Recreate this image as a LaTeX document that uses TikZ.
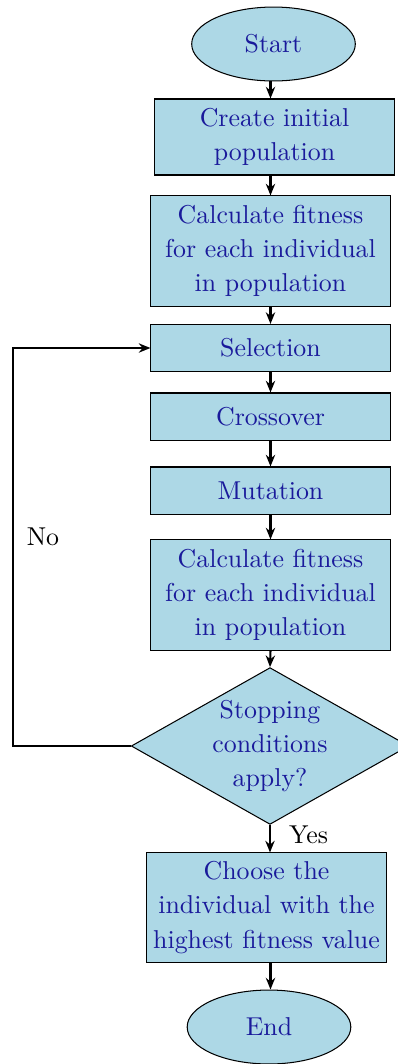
\documentclass[tikz,border=0pt]{standalone}
\usetikzlibrary{shapes.geometric,arrows.meta}
\definecolor{boxfill}{RGB}{173,216,230}
\definecolor{boxtext}{RGB}{26,26,155}
\begin{document}
\begin{tikzpicture}[x=0.38685pt,y=-0.38685pt,
  base/.style={draw=black,fill=boxfill,text=boxtext,
    font=\fontsize{10}{13.2}\selectfont,align=center,inner sep=0pt,line width=0.4pt},
  stepbox/.style={base,rectangle,minimum width=92.5pt},
  term/.style={base,ellipse,minimum width=63.3pt,minimum height=28.6pt},
  decide/.style={base,diamond,aspect=1.77,minimum width=106pt,minimum height=60pt},
  lbl/.style={font=\fontsize{10}{12}\selectfont,text=black,inner sep=0pt},
  arr/.style={-{Stealth[length=4.5pt,width=3.6pt]},line width=0.8pt}]
\useasboundingbox (0,0) rectangle (398,1064);

% flow nodes
\node[term] (start) at (273.5,44) {Start};
\node[stepbox,minimum height=29.4pt] (create) at (274.5,137) {Create initial\\population};
\node[stepbox,minimum height=42.6pt] (fit1) at (270.5,251) {Calculate fitness\\for each individual\\in population};
\node[stepbox,minimum height=18.2pt] (sel) at (270.5,348) {Selection};
\node[stepbox,minimum height=18.2pt] (cross) at (270.5,416.5) {Crossover};
\node[stepbox,minimum height=18.2pt] (mut) at (270.5,490.5) {Mutation};
\node[stepbox,minimum height=42.6pt] (fit2) at (270.5,595) {Calculate fitness\\for each individual\\in population};
\node[decide] (stop) at (270,746) {Stopping\\conditions\\apply?};
\node[stepbox,minimum height=42.2pt] (choose) at (266.5,907.5) {Choose the\\individual with the\\highest fitness value};
\node[term] (end) at (269,1027) {End};

% guide columns for the connectors
\coordinate (axis) at (270.5,0);
\coordinate (loop) at (13,0);

% main column of arrows
\draw[arr] (start.south -| axis) -- (create.north -| axis);
\draw[arr] (create.south -| axis) -- (fit1.north -| axis);
\draw[arr] (fit1.south -| axis) -- (sel.north -| axis);
\draw[arr] (sel.south -| axis) -- (cross.north -| axis);
\draw[arr] (cross.south -| axis) -- (mut.north -| axis);
\draw[arr] (mut.south -| axis) -- (fit2.north -| axis);
\draw[arr] (fit2.south -| axis) -- (stop.north);
\draw[arr] (stop.south) -- (choose.north -| stop.south);
\draw[arr] (choose.south -| axis) -- (end.north -| axis);

% return loop
\draw[arr] (stop.west) -- (stop.west -| loop) -- (sel.west -| loop) -- (sel.west);

% branch labels
\node[lbl] (no) at (43,537) {No};
\node[lbl] (yes) at (308.5,835) {Yes};
\end{tikzpicture}
\end{document}
